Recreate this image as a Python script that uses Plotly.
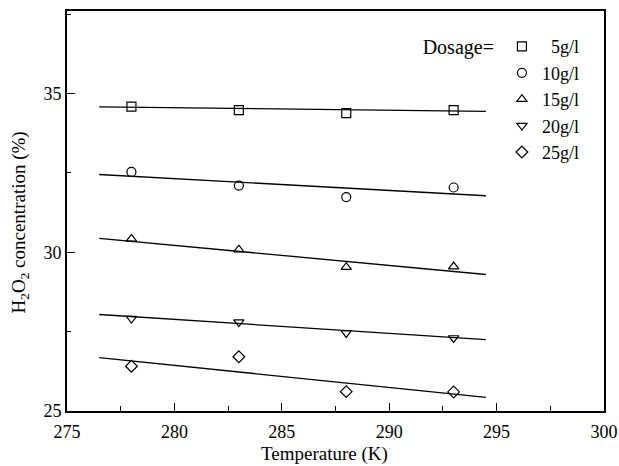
import plotly.graph_objects as go

temps = [278, 283, 288, 293]
labels = ["\u00a0\u00a05g/l", "10g/l", "15g/l", "20g/l", "25g/l"]
symbols = ["square-open", "circle-open", "triangle-up-open", "triangle-down-open", "diamond-open"]
conc_5 = [34.59, 34.48, 34.38, 34.48]
conc_10 = [32.53, 32.10, 31.74, 32.04]
conc_15 = [30.42, 30.08, 29.53, 29.55]
conc_20 = [27.91, 27.80, 27.46, 27.30]
conc_25 = [26.41, 26.71, 25.61, 25.60]
series = [conc_5, conc_10, conc_15, conc_20, conc_25]

fit_x = [276.5, 294.5]
fit_5 = [34.58, 34.44]
fit_10 = [32.45, 31.78]
fit_15 = [30.44, 29.30]
fit_20 = [28.04, 27.25]
fit_25 = [26.68, 25.43]
fits = [fit_5, fit_10, fit_15, fit_20, fit_25]

FONT = "Liberation Serif"
fig = go.Figure()
for fy in fits:
    fig.add_trace(go.Scatter(x=fit_x, y=fy, mode="lines", line=dict(color="black", width=1.3),
                             showlegend=False, hoverinfo="skip"))
for lab, sym, ys in zip(labels, symbols, series):
    fig.add_trace(go.Scatter(x=temps, y=ys, mode="markers", name=lab,
                             marker=dict(symbol=sym, size=9, color="black",
                                         line=dict(color="black", width=1.2))))

axis_common = dict(showline=True, linecolor="black", linewidth=1.6, mirror=True,
                   ticks="inside", ticklen=8, tickwidth=1.3, tickcolor="black",
                   showgrid=False, zeroline=False, automargin=False,
                   tickfont=dict(family=FONT, size=18, color="black"))
fig.update_xaxes(range=[275, 300], dtick=5, tick0=275,
                 minor=dict(ticks="inside", ticklen=5, dtick=2.5, tickcolor="black", tickwidth=1.2),
                 ticklabelstandoff=4, **axis_common)
fig.update_yaxes(range=[25, 37.6], dtick=5, tick0=25,
                 minor=dict(ticks="inside", ticklen=4, dtick=2.5, tickcolor="black", tickwidth=1.2),
                 **axis_common)
title_font = dict(family=FONT, size=19, color="black")
fig.add_annotation(text="Temperature (K)", xref="paper", yref="paper", x=0.48, y=-0.108,
                   xanchor="center", yanchor="middle", showarrow=False, font=title_font)
fig.add_annotation(text="H<sub>2</sub>O<sub>2</sub> concentration (%)", xref="paper", yref="paper",
                   x=-0.087, y=0.472, xanchor="center", yanchor="middle", textangle=-90,
                   showarrow=False, font=title_font)
fig.update_layout(
    width=619, height=466,
    margin=dict(l=67, r=15, t=11, b=55),
    paper_bgcolor="white", plot_bgcolor="white",
    font=dict(family=FONT, color="black"),
    legend=dict(x=0.964, y=0.957, xanchor="right", yanchor="top",
                bgcolor="rgba(0,0,0,0)", borderwidth=0,
                font=dict(family=FONT, size=18, color="black"),
                title=dict(text="Dosage=", side="left", font=dict(family=FONT, size=20, color="black")),
                itemwidth=30, tracegroupgap=0),
)
fig.write_html("out.html")
